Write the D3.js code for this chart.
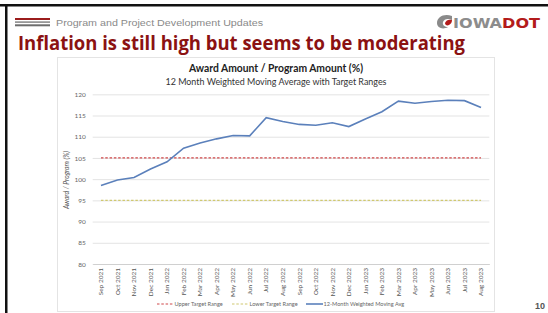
<!DOCTYPE html>
<html>
<head>
<meta charset="utf-8">
<script src="https://cdn.jsdelivr.net/npm/d3@7"></script>
<style>
  body { margin: 0; background: #fff; }
  svg { display: block; }
</style>
</head>
<body>
<div id="chart"></div>
<script>
// chart data
var months = ["Sep 2021", "Oct 2021", "Nov 2021", "Dec 2021", "Jan 2022", "Feb 2022",
  "Mar 2022", "Apr 2022", "May 2022", "Jun 2022", "Jul 2022", "Aug 2022",
  "Sep 2022", "Oct 2022", "Nov 2022", "Dec 2022", "Jan 2023", "Feb 2023",
  "Mar 2023", "Apr 2023", "May 2023", "Jun 2023", "Jul 2023", "Aug 2023"];
var movingAvg = [98.5, 99.8, 100.4, 102.4, 104.1, 107.3, 108.5, 109.5, 110.3, 110.2, 114.5, 113.6,
  112.9, 112.7, 113.3, 112.4, 114.2, 115.9, 118.4, 117.9, 118.3, 118.6, 118.5, 116.9];
var upperTarget = 105;
var lowerTarget = 95;
var yTicks = [80, 85, 90, 95, 100, 105, 110, 115, 120];
var legendLabels = ["Upper Target Range", "Lower Target Range", "12-Month Weighted Moving Avg"];

var svgWidth = 548;
var svgHeight = 313;

var svg = d3.select("#chart")
  .append("svg")
  .attr("width", svgWidth)
  .attr("height", svgHeight);

// slide frame
svg.append("rect").attr("x", 0).attr("y", 4).attr("width", svgWidth).attr("height", 2.5).attr("fill", "#111");
svg.append("rect").attr("x", 5).attr("y", 4).attr("width", 2.5).attr("height", svgHeight).attr("fill", "#111");

// header bars
svg.append("rect").attr("x", 15).attr("y", 18).attr("width", 35).attr("height", 2).attr("fill", "#9b1c1c");
svg.append("rect").attr("x", 15).attr("y", 21.3).attr("width", 35).attr("height", 1.6).attr("fill", "#8c8c8c");
svg.append("rect").attr("x", 15).attr("y", 24.3).attr("width", 35).attr("height", 2).attr("fill", "#6d6d6d");

svg.append("text")
  .attr("x", 56).attr("y", 25.5)
  .attr("font-family", "Liberation Sans, Arial, sans-serif")
  .attr("font-size", 9.6)
  .attr("fill", "#8a8a8a")
  .attr("textLength", 207)
  .attr("lengthAdjust", "spacingAndGlyphs")
  .text("Program and Project Development Updates");

// logo
svg.append("path")
  .attr("d", "M452,16 C444,13 437,17 437,23 C437,28 443,30 448,27 C445,27 442,25 443,22 C444,19 448,18 452,20 Z")
  .attr("fill", "#8a8a8a");
svg.append("path")
  .attr("d", "M452,20 C449,19 446,20 445,23 C445,25 447,26 449,25 C451,24 452,22 452,20 Z")
  .attr("fill", "#b31b1b");
var logo = svg.append("text")
  .attr("x", 453).attr("y", 28)
  .attr("font-family", "DejaVu Sans, sans-serif")
  .attr("font-weight", "bold")
  .attr("font-size", 14)
  .attr("textLength", 87)
  .attr("lengthAdjust", "spacingAndGlyphs");
logo.append("tspan").attr("fill", "#8c8c8c").text("IOWA");
logo.append("tspan").attr("fill", "#b31b1b").text("DOT");

// slide title
svg.append("text")
  .attr("x", 18).attr("y", 50)
  .attr("font-family", "Open Sans, sans-serif")
  .attr("font-weight", "bold")
  .attr("font-size", 19)
  .attr("fill", "#8b1212")
  .attr("textLength", 447)
  .attr("lengthAdjust", "spacingAndGlyphs")
  .text("Inflation is still high but seems to be moderating");

// chart box
svg.append("rect")
  .attr("x", 57.5).attr("y", 57.5)
  .attr("width", 437).attr("height", 254)
  .attr("fill", "#fff")
  .attr("stroke", "#e4e4e4");

svg.append("text")
  .attr("x", 276).attr("y", 72)
  .attr("text-anchor", "middle")
  .attr("font-family", "Lato, sans-serif")
  .attr("font-weight", "bold")
  .attr("font-size", 11)
  .attr("fill", "#222")
  .attr("textLength", 174)
  .attr("lengthAdjust", "spacingAndGlyphs")
  .text("Award Amount / Program Amount (%)");

svg.append("text")
  .attr("x", 276).attr("y", 84.5)
  .attr("text-anchor", "middle")
  .attr("font-family", "Lato, sans-serif")
  .attr("font-size", 9.5)
  .attr("fill", "#333")
  .attr("textLength", 221)
  .attr("lengthAdjust", "spacingAndGlyphs")
  .text("12 Month Weighted Moving Average with Target Ranges");

// scales
var xScale = d3.scaleBand()
  .domain(months)
  .range([92.7, 489.3]);

var yScale = d3.scaleLinear()
  .domain([80, 120])
  .range([264, 94.3]);

var cx = function(m) { return xScale(m) + xScale.bandwidth() / 2; };

// gridlines
var yAxis = d3.axisLeft(yScale)
  .tickValues(yTicks)
  .tickSize(-(489.3 - 92.7))
  .tickPadding(7);

var yG = svg.append("g")
  .attr("transform", "translate(92.7,0)")
  .call(yAxis);
yG.select(".domain").remove();
yG.selectAll(".tick line").attr("stroke", "#dcdcdc").attr("stroke-width", 0.8);
yG.selectAll(".tick text")
  .attr("font-family", "Lato, sans-serif")
  .attr("font-size", 6.5)
  .attr("fill", "#666");

// x axis labels
var xAxis = d3.axisBottom(xScale).tickSize(0);
var xG = svg.append("g")
  .attr("transform", "translate(0,264)")
  .call(xAxis);
xG.select(".domain").attr("stroke", "#d0d0d0");
xG.selectAll(".tick text")
  .attr("font-family", "Lato, sans-serif")
  .attr("font-size", 6.5)
  .attr("fill", "#555")
  .attr("text-anchor", "end")
  .attr("transform", "translate(0,4) rotate(-90)")
  .attr("x", 0).attr("y", 0).attr("dy", "0.35em");

// y axis title
svg.append("text")
  .attr("transform", "translate(69,180) rotate(-90)")
  .attr("text-anchor", "middle")
  .attr("font-family", "Lato, sans-serif")
  .attr("font-style", "italic")
  .attr("font-size", 6.8)
  .attr("fill", "#555")
  .text("Award / Program (%)");

// target lines
var first = cx(months[0]);
var last = cx(months[months.length - 1]);

svg.append("line")
  .attr("x1", first).attr("x2", last)
  .attr("y1", yScale(upperTarget)).attr("y2", yScale(upperTarget))
  .attr("stroke", "#d0484a")
  .attr("stroke-width", 1.2)
  .attr("stroke-dasharray", "2.5,1.8");

svg.append("line")
  .attr("x1", first).attr("x2", last)
  .attr("y1", yScale(lowerTarget)).attr("y2", yScale(lowerTarget))
  .attr("stroke", "#cfc870")
  .attr("stroke-width", 1.2)
  .attr("stroke-dasharray", "2.5,1.8");

// moving average line
var line = d3.line()
  .x(function(d, i) { return cx(months[i]); })
  .y(function(d) { return yScale(d); });

svg.append("path")
  .datum(movingAvg)
  .attr("d", line)
  .attr("fill", "none")
  .attr("stroke", "#5b80bb")
  .attr("stroke-width", 1.6);

// legend
var legendItems = [
  { label: legendLabels[0], x: 157, color: "#d0484a", dash: "2.5,1.8", w: 1.2 },
  { label: legendLabels[1], x: 232, color: "#cfc870", dash: "2.5,1.8", w: 1.2 },
  { label: legendLabels[2], x: 306, color: "#5b80bb", dash: null, w: 1.6 }
];
var lg = svg.selectAll(".legend")
  .data(legendItems)
  .enter()
  .append("g")
  .attr("class", "legend")
  .attr("transform", function(d) { return "translate(" + d.x + ",304)"; });
lg.append("line")
  .attr("x1", 0).attr("x2", 17)
  .attr("stroke", function(d) { return d.color; })
  .attr("stroke-width", function(d) { return d.w; })
  .attr("stroke-dasharray", function(d) { return d.dash; });
lg.append("text")
  .attr("x", 17.5).attr("dy", "0.35em")
  .attr("font-family", "Lato, sans-serif")
  .attr("font-size", 5.6)
  .attr("fill", "#666")
  .text(function(d) { return d.label; });

// page number
svg.append("text")
  .attr("x", 535).attr("y", 309)
  .attr("font-family", "Liberation Sans, sans-serif")
  .attr("font-weight", "bold")
  .attr("font-size", 9)
  .attr("fill", "#555")
  .text("10");
</script>
</body>
</html>
